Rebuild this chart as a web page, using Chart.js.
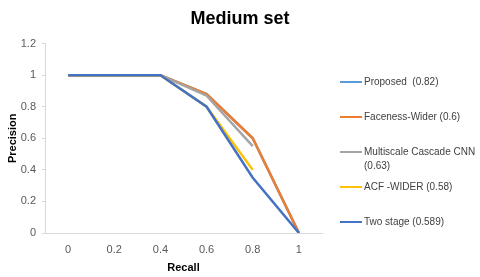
<!DOCTYPE html>
<html>
<head>
<meta charset="utf-8">
<title>Medium set</title>
<script src="https://cdn.jsdelivr.net/npm/chart.js@4.4.1/dist/chart.umd.min.js"></script>
<style>
  html, body { margin: 0; padding: 0; background: #fff; }
  #wrap { width: 480px; height: 277px; position: relative; }
</style>
</head>
<body>
<div id="wrap"><canvas id="myChart"></canvas></div>

<script>
const recall = ['0', '0.2', '0.4', '0.6', '0.8', '1'];

const proposed   = [1, 1, 1, 0.88, 0.6, 0];
const faceness   = [1, 1, 1, 0.88, 0.6, 0];
const multiscale = [1, 1, 1, 0.87, 0.55, null];
const acf        = [1, 1, 1, 0.8, 0.4, null];
const twoStage   = [1, 1, 1, 0.8, 0.35, 0];

const seriesNames = [
  'Proposed  (0.82)',
  'Faceness-Wider (0.6)',
  ['Multiscale Cascade CNN', '(0.63)'],
  'ACF -WIDER (0.58)',
  'Two stage (0.589)'
];
const seriesData = [proposed, faceness, multiscale, acf, twoStage];
const colors = ['#5B9BD5', '#ED7D31', '#A5A5A5', '#FFC000', '#4472C4'];

const font = '"Liberation Sans", Arial, sans-serif';

// legend on the right, drawn by hand so the long label can wrap like the original
const sideLegend = {
  id: 'sideLegend',
  afterDraw(chart) {
    const ctx = chart.ctx;
    ctx.save();
    ctx.font = '10px ' + font;
    ctx.textBaseline = 'middle';
    chart.data.datasets.forEach((ds, i) => {
      const y = 82 + i * 35;
      ctx.strokeStyle = ds.borderColor;
      ctx.lineWidth = 2;
      ctx.beginPath();
      ctx.moveTo(340, y);
      ctx.lineTo(362, y);
      ctx.stroke();
      ctx.fillStyle = '#404040';
      const lines = Array.isArray(ds.label) ? ds.label : [ds.label];
      lines.forEach((t, j) => ctx.fillText(t, 364, y + j * 14));
    });
    ctx.restore();
  }
};

new Chart(document.getElementById('myChart'), {
  type: 'line',
  data: {
    labels: recall,
    datasets: seriesData.map((d, i) => ({
      label: seriesNames[i],
      data: d,
      borderColor: colors[i],
      backgroundColor: colors[i],
      borderWidth: 2.5,
      pointRadius: 0,
      fill: false,
      tension: 0,
      order: seriesData.length - i
    }))
  },
  options: {
    responsive: true,
    maintainAspectRatio: false,
    animation: false,
    layout: { padding: 0 },
    plugins: {
      legend: { display: false },
      tooltip: { enabled: false },
      title: {
        display: true,
        text: 'Medium set',
        color: '#000',
        font: { family: font, size: 18, weight: 'bold' },
        padding: { top: 8, bottom: 14 }
      }
    },
    scales: {
      x: {
        offset: true,
        grid: { display: false, drawTicks: false, offset: true },
        border: { color: '#d9d9d9', width: 1 },
        ticks: { color: '#595959', font: { family: font, size: 11 }, padding: 10, maxRotation: 0 },
        title: { display: true, text: 'Recall', color: '#000', font: { family: font, size: 11, weight: 'bold' }, padding: { top: 4, bottom: 2 } },
        afterFit(s) { s.height = 44; }
      },
      y: {
        min: 0,
        max: 1.2,
        grid: { display: true, drawOnChartArea: false, drawTicks: true, tickLength: 3, color: '#d9d9d9' },
        border: { display: true, color: '#d9d9d9', width: 1 },
        ticks: {
          stepSize: 0.2,
          color: '#595959',
          font: { family: font, size: 11 },
          padding: 6,
          callback: v => String(Math.round(v * 10) / 10)
        },
        title: { display: true, text: 'Precision', color: '#000', font: { family: font, size: 11, weight: 'bold' }, padding: { top: 6, bottom: 0 } },
        afterFit(s) { s.width = 45; }
      },
      // empty right-hand axis that only reserves room for the legend
      side: {
        position: 'right',
        display: true,
        grid: { display: false, drawTicks: false },
        border: { display: false },
        ticks: { display: false },
        afterFit(s) { s.width = 158; }
      }
    }
  },
  plugins: [sideLegend]
});
</script>
</body>
</html>
